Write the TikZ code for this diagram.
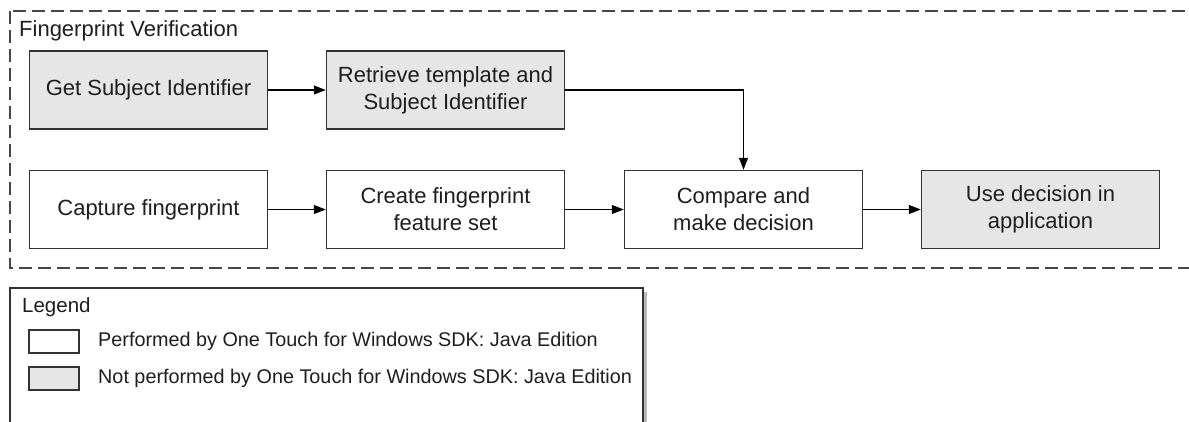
\documentclass[tikz,border=0pt]{standalone}
\usepackage{fontspec}
\setmainfont{Liberation Sans}
\usetikzlibrary{arrows.meta}
\definecolor{boxgray}{HTML}{E6E6E6}
\definecolor{edge}{HTML}{333333}
\definecolor{ink}{HTML}{1E1E1E}
\begin{document}
\begin{tikzpicture}[x=1pt,y=-1pt,
  stepbox/.style={draw=edge, line width=1.5pt, fill=white, minimum width=238pt,
    minimum height=78pt, align=center, text=ink, inner sep=0pt,
    font=\fontsize{22}{27}\selectfont},
  grayed/.style={stepbox, fill=boxgray},
  flow/.style={draw=black, line width=1.2pt, -{Triangle[length=12pt,width=9pt]}},
  frame/.style={draw=edge!90, line width=1.3pt, dash pattern=on 13pt off 6pt},
  legtext/.style={anchor=west, text=ink, inner sep=0pt, font=\fontsize{19.8}{24}\selectfont}]
\clip (0,0) rectangle (1189,421);
\fill[white] (0,0) rectangle (1189,421);

% verification area
\draw[frame] (10,11) rectangle (1205,268);
\node[anchor=base west, inner sep=0pt, text=ink, font=\fontsize{22}{26}\selectfont] (title) at (19,36) {Fingerprint Verification};

% process steps
\node[grayed]  (getid)   at (148.5,90)   {Get Subject Identifier};
\node[grayed]  (retr)    at (445.5,90)   {Retrieve template and\\Subject Identifier};
\node[stepbox] (capture) at (148.5,209.5) {Capture fingerprint};
\node[stepbox] (create)  at (445.5,209.5) {Create fingerprint\\feature set};
\node[stepbox] (compare) at (743.5,209.5) {Compare and\\make decision};
\node[grayed]  (use)     at (1040.5,209.5) {Use decision in\\application};

\draw[flow] (getid) -- (retr);
\draw[flow] (retr.east) -| (compare.north);
\draw[flow] (capture) -- (create);
\draw[flow] (create) -- (compare);
\draw[flow] (compare) -- (use);

% legend
\fill[gray!55] (14,292) rectangle (647,440);
\draw[draw=edge, line width=1.5pt, fill=white] (10,288) rectangle (643,440);
\node[anchor=base west, inner sep=0pt, text=ink, font=\fontsize{20.5}{24}\selectfont] (legtitle) at (22,312) {Legend};
\node[draw=edge, line width=1.3pt, fill=white, minimum width=50pt, minimum height=23pt, inner sep=0pt] (keywhite) at (54,341.5) {};
\node[draw=edge, line width=1.3pt, fill=boxgray, minimum width=50pt, minimum height=23pt, inner sep=0pt] (keygray) at (54,378.5) {};
\node[legtext] (lwhite) at (98,341.5) {Performed by One Touch for Windows SDK: Java Edition};
\node[legtext] (lgray)  at (98,378.5) {Not performed by One Touch for Windows SDK: Java Edition};
\end{tikzpicture}
\end{document}
